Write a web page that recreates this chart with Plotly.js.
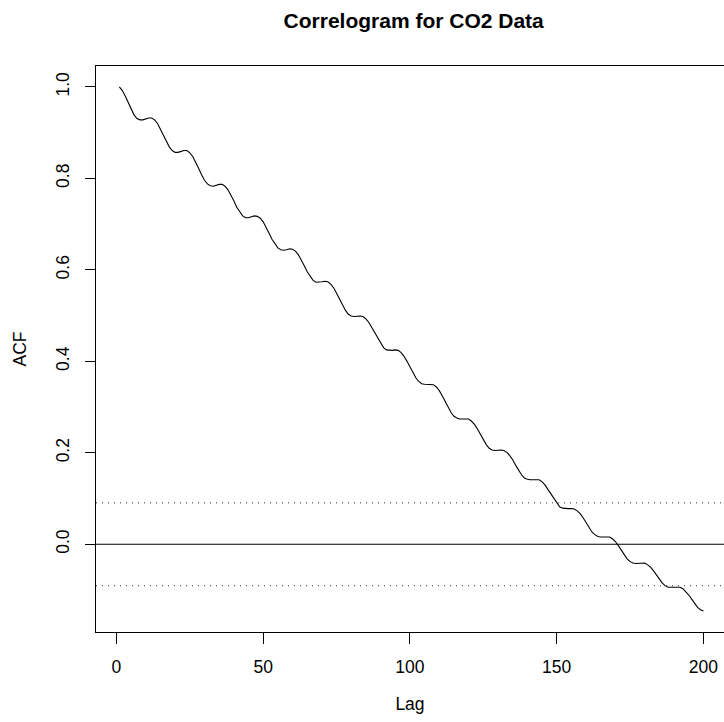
<!DOCTYPE html>
<html>
<head>
<meta charset="utf-8">
<script src="https://cdn.plot.ly/plotly-3.0.1.min.js"></script>
<style>
  html, body { margin: 0; padding: 0; background: #ffffff; }
  #chart { width: 724px; height: 722px; }
</style>
</head>
<body>
<div id="chart"></div>
<script>
// Autocorrelation values (lag index 1..200)
const acfValues = [
  1.000, 0.992, 0.980, 0.966, 0.951, 0.939, 0.931, 0.928, 0.928, 0.930, 0.932, 0.932,
  0.928, 0.920, 0.908, 0.894, 0.881, 0.869, 0.861, 0.857, 0.857, 0.859, 0.861, 0.861,
  0.856, 0.848, 0.836, 0.822, 0.808, 0.796, 0.788, 0.784, 0.783, 0.785, 0.787, 0.787,
  0.783, 0.775, 0.764, 0.751, 0.737, 0.726, 0.718, 0.714, 0.714, 0.716, 0.718, 0.717,
  0.713, 0.705, 0.694, 0.680, 0.667, 0.656, 0.648, 0.644, 0.643, 0.644, 0.646, 0.645,
  0.641, 0.633, 0.622, 0.609, 0.596, 0.585, 0.577, 0.573, 0.573, 0.574, 0.575, 0.574,
  0.569, 0.561, 0.549, 0.536, 0.523, 0.512, 0.503, 0.499, 0.498, 0.499, 0.499, 0.498,
  0.493, 0.485, 0.474, 0.461, 0.449, 0.438, 0.430, 0.425, 0.424, 0.424, 0.425, 0.424,
  0.419, 0.411, 0.400, 0.387, 0.375, 0.364, 0.356, 0.351, 0.350, 0.350, 0.350, 0.349,
  0.344, 0.336, 0.325, 0.312, 0.299, 0.288, 0.280, 0.276, 0.274, 0.274, 0.275, 0.274,
  0.269, 0.262, 0.252, 0.240, 0.228, 0.218, 0.210, 0.206, 0.205, 0.206, 0.206, 0.205,
  0.201, 0.194, 0.185, 0.173, 0.162, 0.152, 0.145, 0.142, 0.141, 0.141, 0.142, 0.141,
  0.137, 0.130, 0.120, 0.110, 0.099, 0.089, 0.082, 0.079, 0.078, 0.078, 0.078, 0.077,
  0.073, 0.067, 0.058, 0.047, 0.036, 0.027, 0.021, 0.017, 0.016, 0.016, 0.017, 0.016,
  0.012, 0.006, -0.003, -0.013, -0.023, -0.032, -0.038, -0.041, -0.042, -0.042, -0.041, -0.041,
  -0.045, -0.050, -0.058, -0.068, -0.077, -0.085, -0.091, -0.094, -0.094, -0.094, -0.093, -0.094,
  -0.097, -0.103, -0.111, -0.120, -0.130, -0.138, -0.143, -0.146
];
const lags = acfValues.map((_, i) => i + 1);

const xTickVals = [0, 50, 100, 150, 200];
const yTickVals = [0.0, 0.2, 0.4, 0.6, 0.8, 1.0];
const yTickText = ["0.0", "0.2", "0.4", "0.6", "0.8", "1.0"];
const ciBound = 0.0906;          // dotted significance bounds (+/-)
const refLevels = [0];           // solid reference line

const FONT = "Liberation Sans, Arial, Helvetica, sans-serif";

const traces = [{
  x: lags,
  y: acfValues,
  type: "scatter",
  mode: "lines",
  line: { color: "#000000", width: 1.1 },
  hoverinfo: "skip",
  showlegend: false
}];

const shapes = [];
refLevels.forEach(v => shapes.push({
  type: "line", xref: "paper", x0: 0, x1: 1, yref: "y", y0: v, y1: v,
  line: { color: "#000000", width: 1.1 }
}));
[ciBound, -ciBound].forEach(v => shapes.push({
  type: "line", xref: "paper", x0: 0, x1: 1, yref: "y", y0: v, y1: v,
  line: { color: "#333333", width: 1, dash: "1px,5px" }
}));

const layout = {
  width: 724,
  height: 722,
  margin: { l: 96, r: 0, t: 66, b: 90, pad: 0 },
  paper_bgcolor: "#ffffff",
  plot_bgcolor: "#ffffff",
  font: { family: FONT, color: "#000000", size: 17.5 },
  title: {
    text: "Correlogram for CO2 Data",
    font: { family: FONT, size: 21, weight: "bold", color: "#000000" },
    xref: "container", x: 0.5714, xanchor: "center",
    yref: "container", y: 0.972, yanchor: "middle"
  },
  xaxis: {
    range: [-6.96, 207.0],
    tickvals: xTickVals,
    ticktext: xTickVals.map(String),
    ticks: "outside", ticklen: 10.5, tickwidth: 1, tickcolor: "#000000",
    showline: true, linecolor: "#000000", linewidth: 1, mirror: true,
    showgrid: false, zeroline: false,
    tickfont: { family: FONT, size: 17.5, color: "#000000" },
    ticklabelstandoff: 8,
    title: { text: "Lag", font: { family: FONT, size: 17.5, color: "#000000" }, standoff: 22 },
    automargin: false
  },
  yaxis: {
    range: [-0.1918, 1.0458],
    tickvals: yTickVals,
    ticktext: yTickText,
    tickangle: -90,
    ticks: "outside", ticklen: 10.5, tickwidth: 1, tickcolor: "#000000",
    showline: true, linecolor: "#000000", linewidth: 1, mirror: false,
    showgrid: false, zeroline: false,
    tickfont: { family: FONT, size: 17.5, color: "#000000" },
    ticklabelstandoff: 9,
    title: { text: "ACF", font: { family: FONT, size: 17.5, color: "#000000" }, standoff: 21 },
    automargin: false
  },
  shapes: shapes,
  showlegend: false
};

Plotly.newPlot("chart", traces, layout, { displayModeBar: false, staticPlot: true });
</script>
</body>
</html>
